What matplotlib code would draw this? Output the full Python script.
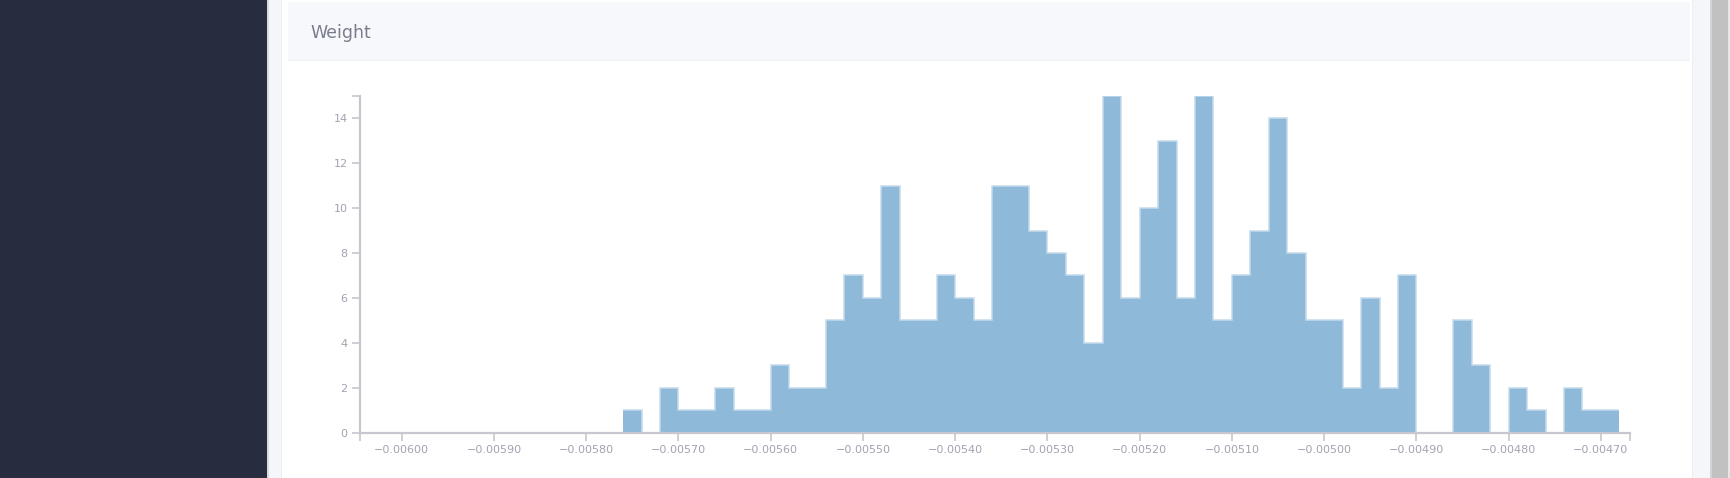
import matplotlib
matplotlib.use("Agg")
import matplotlib.pyplot as plt
from matplotlib.patches import Rectangle

# ---------------- data ----------------
title = "Weight"
bin_left = [
    -0.00576, -0.00574, -0.00572, -0.00570, -0.00568, -0.00566, -0.00564, -0.00562,
    -0.00560, -0.00558, -0.00556, -0.00554, -0.00552, -0.00550, -0.00548, -0.00546,
    -0.00544, -0.00542, -0.00540, -0.00538, -0.00536, -0.00534, -0.00532, -0.00530,
    -0.00528, -0.00526, -0.00524, -0.00522, -0.00520, -0.00518, -0.00516, -0.00514,
    -0.00512, -0.00510, -0.00508, -0.00506, -0.00504, -0.00502, -0.00500, -0.00498,
    -0.00496, -0.00494, -0.00492, -0.00490, -0.00488, -0.00486, -0.00484, -0.00482,
    -0.00480, -0.00478, -0.00476, -0.00474, -0.00472, -0.00470,
]
last_edge = -0.00468
counts = [
    1, 0, 2, 1, 1, 2, 1, 1,
    3, 2, 2, 5, 7, 6, 11, 5,
    5, 7, 6, 5, 11, 11, 9, 8,
    7, 4, 15, 6, 10, 13, 6, 15,
    5, 7, 9, 14, 8, 5, 5, 2,
    6, 2, 7, 0, 0, 5, 3, 0,
    2, 1, 0, 2, 1, 1,
]
x_ticks = [-0.0060, -0.0059, -0.0058, -0.0057, -0.0056, -0.0055, -0.0054,
           -0.0053, -0.0052, -0.0051, -0.0050, -0.0049, -0.0048, -0.0047]
x_tick_labels = ["\u22120.00600", "\u22120.00590", "\u22120.00580", "\u22120.00570",
                 "\u22120.00560", "\u22120.00550", "\u22120.00540", "\u22120.00530",
                 "\u22120.00520", "\u22120.00510", "\u22120.00500", "\u22120.00490",
                 "\u22120.00480", "\u22120.00470"]
y_ticks = [0, 2, 4, 6, 8, 10, 12, 14]
x_domain = [-0.0060452, -0.0046685]
y_domain = [0, 15]

# ---------------- figure ----------------
W, H = 1730, 478
fig = plt.figure(figsize=(W / 100, H / 100), dpi=100, facecolor="white")


def rect(x0, y0, x1, y1, color, z=0):
    fig.add_artist(Rectangle((x0 / W, 1 - y1 / H), (x1 - x0) / W, (y1 - y0) / H,
                             transform=fig.transFigure, facecolor=color,
                             edgecolor="none", lw=0, zorder=z))


# page background & frame
rect(0, 0, W, H, "#f5f6fa")
rect(0, 0, 267, H, "#272d3f")
rect(267, 0, 269, H, "#d9dae0")
rect(281, 0, 1693, H, "#eceef3")
rect(282, 0, 1692, H, "#ffffff")
rect(1710, 0, 1712, H, "#d4d4d6")
rect(1712, 0, 1728, H, "#c1c1c1")
rect(1728, 0, W, H, "#e6e6e6")
# header
rect(288, 2, 1690, 61, "#eef0f5")
rect(288, 2, 1690, 60, "#f7f8fc")
fig.text(310 / W, 1 - 38.5 / H, title, fontsize=12.5, color="#7a7d8c",
         ha="left", va="baseline", family="DejaVu Sans")

# ---------------- axes ----------------
ax = fig.add_axes([360 / W, 1 - 432.7 / H, 1270 / W, 337 / H])
ax.patch.set_alpha(0)

edges = bin_left + [last_edge]
ax.stairs(counts, edges, fill=True, facecolor="#8fb9d8", edgecolor="none",
          linewidth=0, zorder=3)
ax.stairs(counts, edges, fill=False, color="#c4daec", linewidth=1.1,
          baseline=None, zorder=3.5)

ax.set_xlim(*x_domain)
ax.set_ylim(*y_domain)

axis_col = "#c6c7cf"
label_col = "#a2a3b0"
for s in ["top", "right"]:
    ax.spines[s].set_visible(False)
for s in ["left", "bottom"]:
    ax.spines[s].set_color(axis_col)
    ax.spines[s].set_linewidth(1.6)
    ax.spines[s].set_zorder(4)

ax.set_xticks(x_ticks)
ax.set_xticklabels(x_tick_labels)
ax.set_yticks(y_ticks)
ax.set_xticks(x_domain, minor=True)
ax.set_yticks(y_domain, minor=True)
ax.tick_params(axis="both", which="both", direction="out", length=6, width=1.2,
               color=axis_col)
ax.tick_params(axis="both", which="major", labelsize=8, labelcolor=label_col, pad=3)

fig.savefig("out.png", dpi=100, facecolor="white")
